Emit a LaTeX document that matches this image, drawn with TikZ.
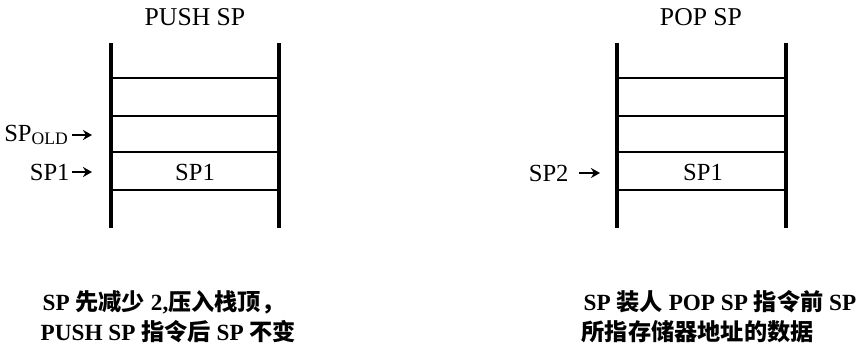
\documentclass[tikz,border=0pt]{standalone}
\usepackage{fontspec}
\setmainfont{Liberation Serif}
\newfontfamily\cjk{Noto Sans CJK SC}
\usetikzlibrary{arrows.meta}
\tikzset{
  wall/.style={line width=0.9pt},
  cell/.style={line width=0.6pt},
  ptr/.style={-{Stealth[length=0.9mm,width=1mm]}, line width=0.5pt},
  title/.style={font=\fontsize{7.3}{8}\selectfont},
  reg/.style={font=\fontsize{7}{8}\selectfont, inner sep=0.5pt},
  note/.style={font=\fontsize{6.6}{7}\selectfont\bfseries, anchor=west, inner sep=0pt}
}
\begin{document}
\begin{tikzpicture}
    %\draw [help lines] (0,0) grid (8.66,3.6);
    \useasboundingbox (0,0) rectangle (8.66,3.6);

    \node[title] (pushtitle) at (1.95,3.43) {PUSH SP};
    \node[title] (poptitle) at (7.01,3.43) {POP SP};

    % PUSH stack
    \draw[wall] (1.11,3.17) -- (1.11,1.32);
    \draw[wall] (2.79,3.17) -- (2.79,1.32);
    \draw[cell] (1.11,2.82) -- (2.79,2.82);
    \draw[cell] (1.11,2.44) -- (2.79,2.44);
    \draw[cell] (1.11,2.08) -- (2.79,2.08);
    \draw[cell] (1.11,1.70) -- (2.79,1.70);
    \node[reg] (pushcell) at (1.95,1.88) {SP1};

    % POP stack
    \draw[wall] (6.17,3.17) -- (6.17,1.32);
    \draw[wall] (7.86,3.17) -- (7.86,1.32);
    \draw[cell] (6.17,2.82) -- (7.86,2.82);
    \draw[cell] (6.17,2.44) -- (7.86,2.44);
    \draw[cell] (6.17,2.08) -- (7.86,2.08);
    \draw[cell] (6.17,1.70) -- (7.86,1.70);
    \node[reg] (popcell) at (7.03,1.88) {SP1};

    \node[reg, anchor=east] (spold) at (0.72,2.25) {SP\textsubscript{OLD}};
    \node[reg, anchor=east] (sp1) at (0.72,1.88) {SP1};
    \node[reg, anchor=east] (sp2) at (5.71,1.87) {SP2};
    \coordinate (spoldtip) at (0.92,2.25);
    \coordinate (sp1tip) at (0.92,1.88);
    \coordinate (sp2tip) at (6.00,1.87);

    \draw[ptr] (spold) to (spoldtip);
    \draw[ptr] (sp1) to (sp1tip);
    \draw[ptr, shorten <=0.08cm] (sp2) to (sp2tip);

    \node[note] (pushnote1) at (0.42,0.58) {SP {\cjk 先减少} 2,{\cjk 压入栈顶，}};
    \node[note] (pushnote2) at (0.40,0.28) {PUSH SP {\cjk 指令后} SP {\cjk 不变}};
    \node[note] (popnote1) at (5.83,0.58) {SP {\cjk 装人} POP SP {\cjk 指令前} SP};
    \node[note] (popnote2) at (5.81,0.28) {{\cjk 所指存储器地址的数据}};
  \end{tikzpicture}
\end{document}
